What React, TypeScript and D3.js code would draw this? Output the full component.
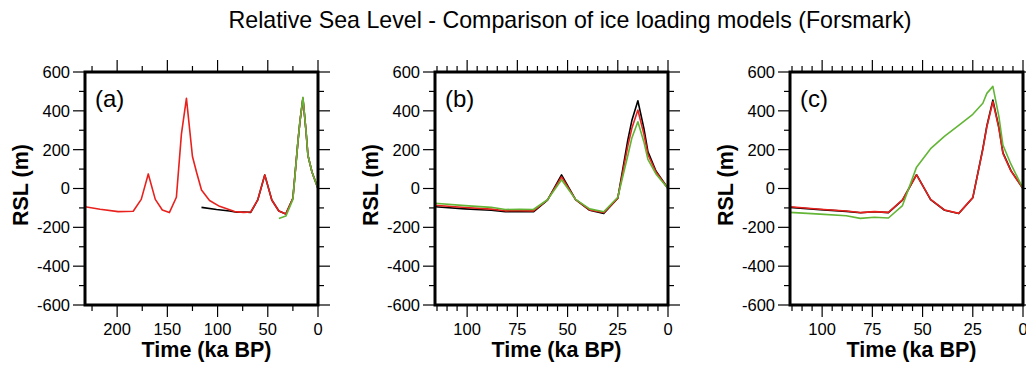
import React from "react";
import * as d3 from "d3";

// ---------- data ----------
const TITLE = "Relative Sea Level - Comparison of ice loading models (Forsmark)";
const PANEL_LABELS = ["(a)", "(b)", "(c)"];
const X_MAX = [232, 116, 116];
const X_MAJOR_STEP = [50, 25, 25];
const X_MINOR_STEP = [25, 5, 5];
const Y_TICKS_MAJOR = [-600, -400, -200, 0, 200, 400, 600];
const Y_TICKS_MINOR = [-500, -300, -100, 100, 300, 500];

// last glacial cycle time steps (ka BP)
const T_LG = [116, 101, 88, 81, 74, 67, 60, 53, 46, 39, 32, 25, 20, 18, 15, 12, 10, 6, 0];
// two glacial cycles (panel a, red)
const T_A_RED = [232, 217, 199, 184, 176, 169, 162, 155, 148, 141, 136, 131, 125, 121, 116, 108, 98, 83, 74, 67, 60, 53, 46, 39, 32, 25, 20, 18, 15, 12, 10, 6, 0];
const T_A_GREEN = [39, 32, 25, 20, 18, 15, 12, 10, 6, 0];

// panel (a)
const A_BLACK = [-97, -108, -116, -122, -121, -123, -59, 70, -59, -116, -131, -50, 240, 344, 465, 300, 170, 85, 0];
const A_RED = [-94, -107, -119, -117, -56, 75, -56, -111, -124, -45, 280, 464, 165, 85, -8, -62, -92, -119, -123, -121, -59, 70, -59, -116, -131, -50, 240, 344, 465, 300, 170, 85, 0];
const A_GREEN = [-154, -142, -56, 240, 344, 470, 300, 170, 85, 0];

// panel (b)
const B_BLACK = [-94, -105, -112, -120, -119, -120, -60, 70, -57, -112, -128, -50, 250, 350, 452, 310, 190, 90, 0];
const B_RED = [-86, -98, -106, -115, -114, -115, -59, 60, -57, -110, -124, -50, 220, 310, 404, 280, 175, 85, 0];
const B_GREEN = [-76, -88, -97, -108, -107, -108, -58, 45, -56, -105, -120, -45, 170, 260, 344, 240, 150, 75, 0];

// panel (c)
const C_BLACK = [-97, -109, -118, -125, -120, -124, -60, 71, -57, -112, -129, -48, 205, 322, 455, 315, 185, 92, 0];
const C_RED = [-94, -107, -116, -124, -119, -123, -59, 70, -56, -111, -128, -47, 200, 318, 447, 310, 181, 90, 0];
const C_GREEN = [-123, -132, -140, -154, -148, -152, -88, 110, 205, 270, 325, 382, 439, 490, 526, 370, 224, 125, 0];

const BLACK = "#000000";
const RED = "#e8211d";
const GREEN = "#62b535";

const PANEL_SERIES = [
  [
    { t: T_LG, v: A_BLACK, c: BLACK },
    { t: T_A_RED, v: A_RED, c: RED },
    { t: T_A_GREEN, v: A_GREEN, c: GREEN },
  ],
  [
    { t: T_LG, v: B_BLACK, c: BLACK },
    { t: T_LG, v: B_RED, c: RED },
    { t: T_LG, v: B_GREEN, c: GREEN },
  ],
  [
    { t: T_LG, v: C_BLACK, c: BLACK },
    { t: T_LG, v: C_RED, c: RED },
    { t: T_LG, v: C_GREEN, c: GREEN },
  ],
];

// ---------- layout ----------
const W = 1026;
const H = 367;
const PANEL_LEFT = [85, 435, 790];
const PLOT_W = 233;
const TOP = 72;
const BOTTOM = 305;
const FONT = "'Liberation Sans', Arial, Helvetica, sans-serif";

function Panel({ idx }: { idx: number }) {
  const left = PANEL_LEFT[idx];
  const right = left + PLOT_W;
  const x = d3.scaleLinear().domain([X_MAX[idx], 0]).range([left, right]);
  const y = d3.scaleLinear().domain([-600, 600]).range([BOTTOM, TOP]);
  const majors = d3.range(0, X_MAX[idx] + 0.001, X_MAJOR_STEP[idx]);
  const minors = d3
    .range(0, X_MAX[idx] + 0.001, X_MINOR_STEP[idx])
    .filter((d) => d % X_MAJOR_STEP[idx] !== 0);
  const line = d3
    .line<[number, number]>()
    .x((d) => x(d[0]))
    .y((d) => y(d[1]));
  const clipId = `clip${idx}`;
  const MAJ = 12;
  const MIN = 6;
  return (
    <g>
      <defs>
        <clipPath id={clipId}>
          <rect x={left} y={TOP} width={PLOT_W} height={BOTTOM - TOP} />
        </clipPath>
      </defs>
      <g clipPath={`url(#${clipId})`}>
        {PANEL_SERIES[idx].map((s, i) => (
          <path
            key={i}
            d={line(s.t.map((t, k) => [t, s.v[k]] as [number, number])) || ""}
            fill="none"
            stroke={s.c}
            strokeWidth={1.6}
            strokeLinejoin="round"
          />
        ))}
      </g>
      {/* x ticks top & bottom */}
      {majors.map((d) => (
        <g key={"mx" + d}>
          <line x1={x(d)} x2={x(d)} y1={TOP} y2={TOP - MAJ} stroke="#000" strokeWidth={1.2} />
          <line x1={x(d)} x2={x(d)} y1={BOTTOM} y2={BOTTOM + MAJ} stroke="#000" strokeWidth={1.2} />
          <text
            x={x(d)}
            y={335}
            textAnchor="middle"
            fontSize={16.5}
            fontFamily={FONT}
            fill="#000"
          >
            {d}
          </text>
        </g>
      ))}
      {minors.map((d) => (
        <g key={"nx" + d}>
          <line x1={x(d)} x2={x(d)} y1={TOP} y2={TOP - MIN} stroke="#000" strokeWidth={1.2} />
          <line x1={x(d)} x2={x(d)} y1={BOTTOM} y2={BOTTOM + MIN} stroke="#000" strokeWidth={1.2} />
        </g>
      ))}
      {/* y ticks left & right */}
      {Y_TICKS_MAJOR.map((d) => (
        <g key={"my" + d}>
          <line x1={left} x2={left - MAJ} y1={y(d)} y2={y(d)} stroke="#000" strokeWidth={1.2} />
          <line x1={right} x2={right + MAJ} y1={y(d)} y2={y(d)} stroke="#000" strokeWidth={1.2} />
          <text
            x={left - 15}
            y={y(d)}
            dy="0.36em"
            textAnchor="end"
            fontSize={16.5}
            fontFamily={FONT}
            fill="#000"
          >
            {d}
          </text>
        </g>
      ))}
      {Y_TICKS_MINOR.map((d) => (
        <g key={"ny" + d}>
          <line x1={left} x2={left - MIN} y1={y(d)} y2={y(d)} stroke="#000" strokeWidth={1.2} />
          <line x1={right} x2={right + MIN} y1={y(d)} y2={y(d)} stroke="#000" strokeWidth={1.2} />
        </g>
      ))}
      {/* frame */}
      <rect
        x={left}
        y={TOP}
        width={PLOT_W}
        height={BOTTOM - TOP}
        fill="none"
        stroke="#000"
        strokeWidth={3}
      />
      {/* panel label */}
      <text x={left + 10} y={107} fontSize={24} fontFamily={FONT} fill="#000">
        {PANEL_LABELS[idx]}
      </text>
      {/* axis titles */}
      <text
        x={(left + right) / 2 + 5}
        y={357}
        textAnchor="middle"
        fontSize={21.5}
        fontWeight="bold"
        fontFamily={FONT}
        fill="#000"
      >
        Time (ka BP)
      </text>
      <text
        transform={`translate(${left - 57},185) rotate(-90)`}
        textAnchor="middle"
        fontSize={21.5}
        fontWeight="bold"
        fontFamily={FONT}
        fill="#000"
      >
        RSL (m)
      </text>
    </g>
  );
}

export default function App() {
  return (
    <svg
      width={W}
      height={H}
      style={{ position: "absolute", left: 0, top: 0, background: "#fff" }}
    >
      <rect x={0} y={0} width={W} height={H} fill="#fff" />
      <text
        x={570}
        y={28}
        textAnchor="middle"
        fontSize={23.2}
        fontFamily={FONT}
        fill="#000"
      >
        {TITLE}
      </text>
      {[0, 1, 2].map((i) => (
        <Panel key={i} idx={i} />
      ))}
    </svg>
  );
}
